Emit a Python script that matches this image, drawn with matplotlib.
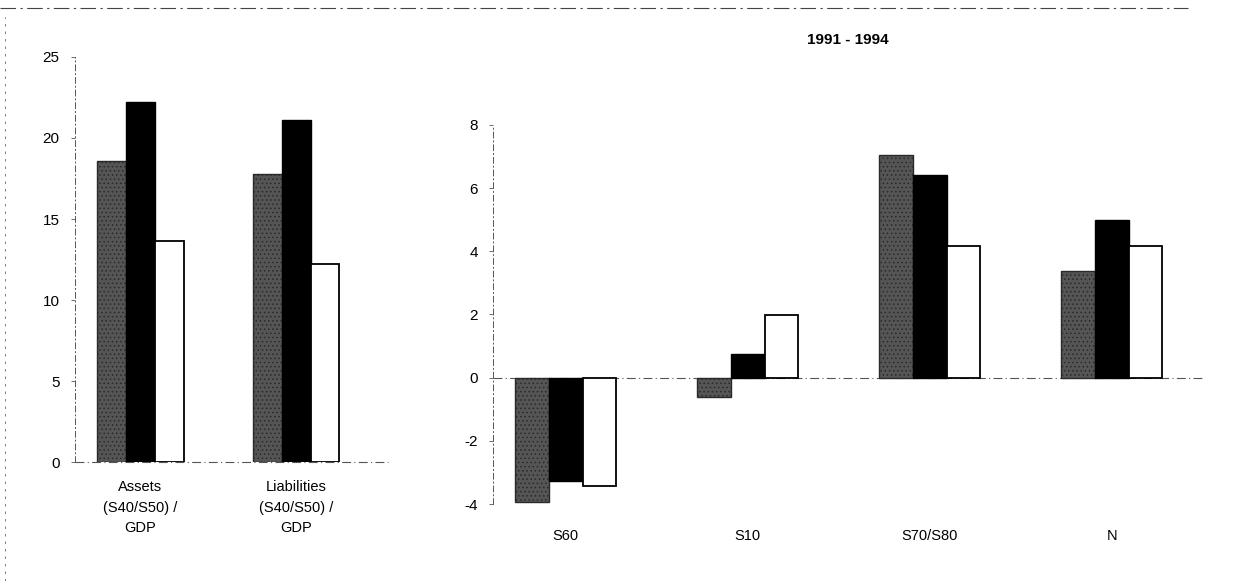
import matplotlib.pyplot as plt
import numpy as np
from matplotlib.lines import Line2D

plt.rcParams["font.family"] = ["Liberation Sans", "DejaVu Sans"]
plt.rcParams["axes.unicode_minus"] = False

# left panel: stocks relative to GDP
left_categories = ["Assets\n(S40/S50) /\nGDP", "Liabilities\n(S40/S50) /\nGDP"]
left_gray = [18.6, 17.75]
left_black = [22.2, 21.1]
left_white = [13.65, 12.2]

# right panel: 1991 - 1994
right_title = "1991 - 1994"
right_categories = ["S60", "S10", "S70/S80", "N"]
right_gray = [-3.95, -0.6, 7.05, 3.37]
right_black = [-3.28, 0.75, 6.42, 4.98]
right_white = [-3.44, 1.98, 4.16, 4.17]

left_ticks = [0, 5, 10, 15, 20, 25]
right_ticks = [-4, -2, 0, 2, 4, 6, 8]

GRAY = "#555555"
AXIS = "#555555"
WIDTH = 0.185


def draw_bars(ax, gray, black, white):
    x = np.arange(len(gray))
    ax.bar(x - WIDTH, gray, WIDTH, color=GRAY, edgecolor="#2a2a2a", linewidth=1.0,
           hatch="....", zorder=3)
    ax.bar(x, black, WIDTH, color="black", edgecolor="black", linewidth=1.0, zorder=3)
    ax.bar(x + WIDTH, white, WIDTH, color="white", edgecolor="black", linewidth=1.3, zorder=3)
    return x


def style_axes(ax):
    for side in ["top", "right", "bottom"]:
        ax.spines[side].set_visible(False)
    ax.spines["left"].set_linestyle((0, (6, 3, 1, 3)))
    ax.spines["left"].set_color(AXIS)
    ax.spines["left"].set_linewidth(0.7)
    ax.axhline(0, color=AXIS, linewidth=0.8, linestyle=(0, (8, 3, 1, 3)), zorder=2,
               clip_on=False)
    ax.tick_params(axis="y", length=3, width=0.6, color=AXIS, labelsize=11, pad=8)
    ax.tick_params(axis="x", length=0, labelsize=10.5)


plt.rcParams["hatch.color"] = "#8a8a8a"
plt.rcParams["hatch.linewidth"] = 0.6

fig = plt.figure(figsize=(12.5, 5.81), dpi=100)

ax1 = fig.add_axes([0.06, 0.2048, 0.2504, 0.6971])
x1 = draw_bars(ax1, left_gray, left_black, left_white)
style_axes(ax1)
ax1.set_xlim(-0.42, 1.59)
ax1.set_ylim(0, 25)
ax1.set_yticks(left_ticks)
ax1.set_xticks(x1)
ax1.set_xticklabels(left_categories, linespacing=1.6)
ax1.tick_params(axis="x", pad=13)

ax2 = fig.add_axes([0.3944, 0.1325, 0.568, 0.6524])
x2 = draw_bars(ax2, right_gray, right_black, right_white)
style_axes(ax2)
ax2.set_xlim(-0.4, 3.5)
ax2.set_ylim(-4, 8)
ax2.set_yticks(right_ticks)
ax2.set_xticks(x2)
ax2.set_xticklabels(right_categories)
ax2.tick_params(axis="x", pad=18)
fig.text(0.678, 0.931, right_title, ha="center", va="center", fontsize=11,
         fontweight="bold")

# scan border remnants
fig.add_artist(Line2D([0.0, 0.95], [0.986, 0.986], color="#444444", linewidth=0.8,
                      linestyle=(0, (14, 4, 2, 4)), transform=fig.transFigure))
fig.add_artist(Line2D([0.004, 0.004], [0.0, 0.97], color="#666666", linewidth=0.6,
                      linestyle=(0, (3, 6)), transform=fig.transFigure))

fig.savefig("out.png", dpi=100)
